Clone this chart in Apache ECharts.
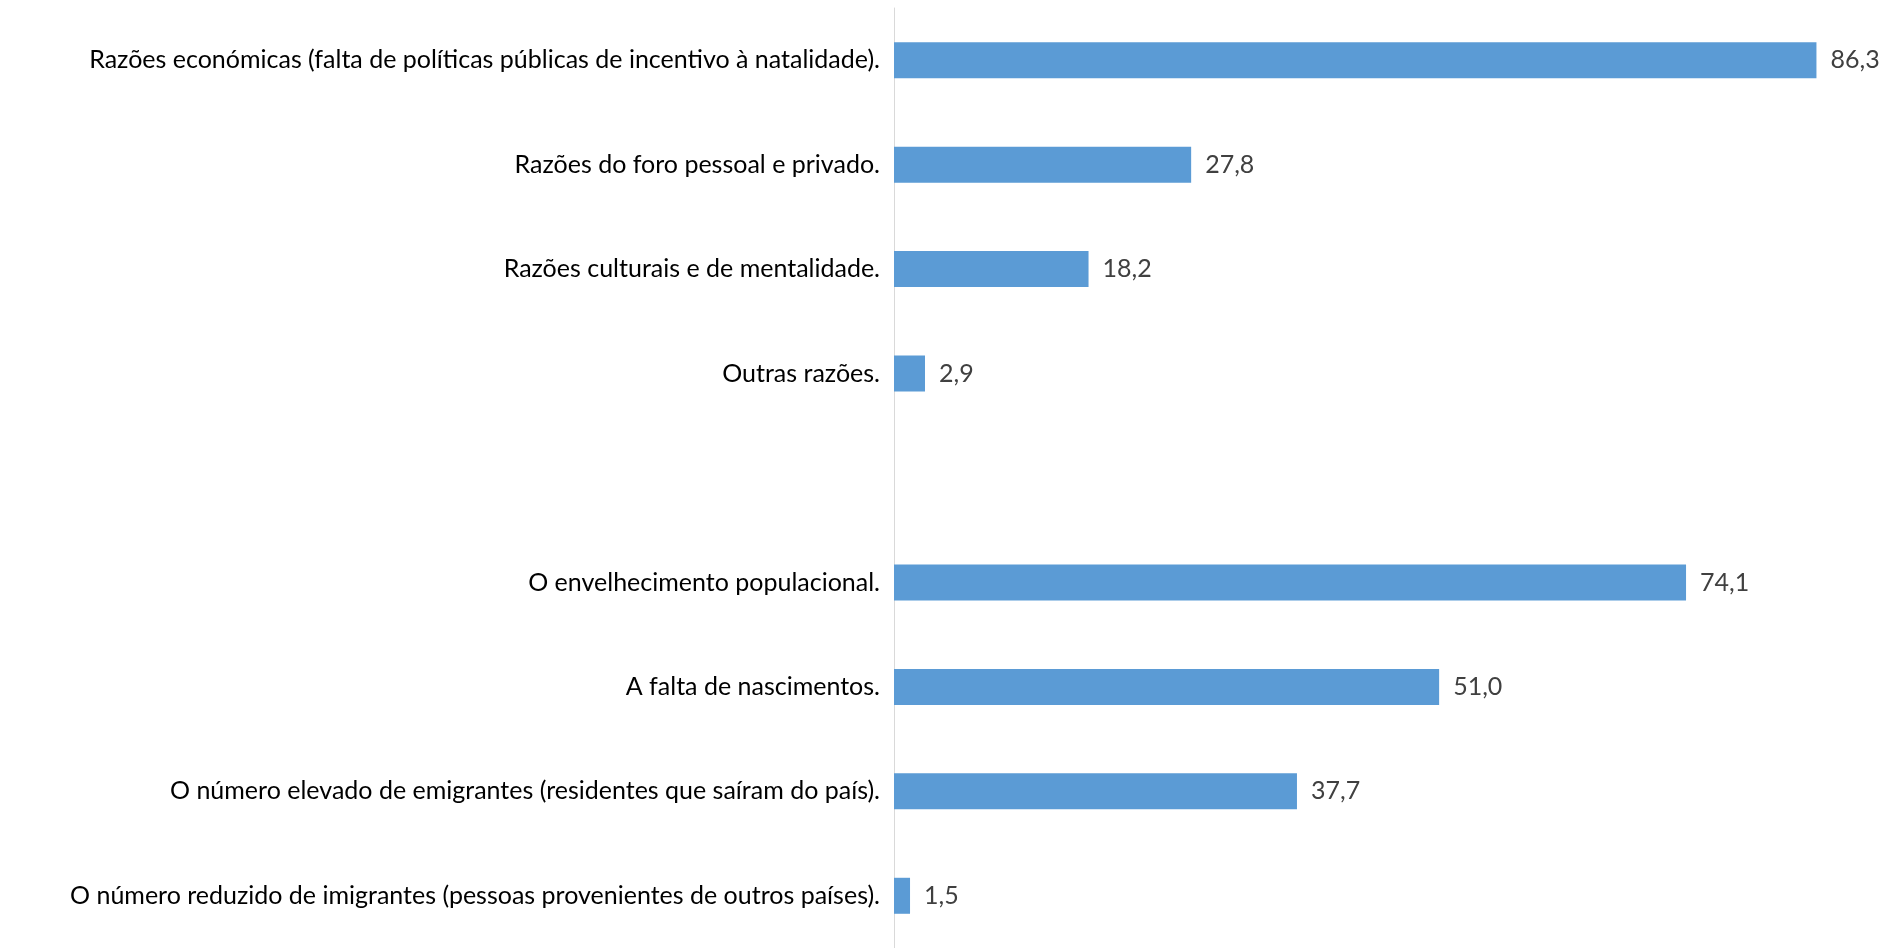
<!DOCTYPE html>
<html>
<head>
<meta charset="utf-8">
<script src="https://cdn.jsdelivr.net/npm/echarts@6/dist/echarts.min.js"></script>
<style>
  html, body { margin: 0; padding: 0; background: #fff; }
  #chart { width: 1899px; height: 948px; }
</style>
</head>
<body>
<div id="chart"></div>
<script>
// categories from top to bottom; the empty one is the gap between the two groups
var categories = [
  "Razões económicas (falta de políticas públicas de incentivo à natalidade).",
  "Razões do foro pessoal e privado.",
  "Razões culturais e de mentalidade.",
  "Outras razões.",
  "",
  "O envelhecimento populacional.",
  "A falta de nascimentos.",
  "O número elevado de emigrantes (residentes que saíram do país).",
  "O número reduzido de imigrantes (pessoas provenientes de outros países)."
];
var values = [86.3, 27.8, 18.2, 2.9, null, 74.1, 51.0, 37.7, 1.5];

var chart = echarts.init(document.getElementById("chart"));

var option = {
  animation: false,
  grid: {
    left: 894,
    right: 43,
    top: 8,
    height: 943
  },
  xAxis: {
    type: "value",
    min: 0,
    max: 90,
    show: false
  },
  yAxis: {
    type: "category",
    inverse: true,
    data: categories,
    axisLine: { show: true, lineStyle: { color: "#d9d9d9", width: 1 } },
    axisTick: { show: false },
    axisLabel: {
      color: "#000000",
      fontFamily: "Lato",
      fontSize: 25,
      margin: 14
    }
  },
  series: [
    {
      type: "bar",
      data: values,
      barWidth: 36,
      itemStyle: { color: "#5b9bd5" },
      label: {
        show: true,
        position: "right",
        distance: 14,
        color: "#404040",
        fontFamily: "Lato",
        fontSize: 25,
        formatter: function (p) {
          return p.value == null ? "" : p.value.toFixed(1).replace(".", ",");
        }
      }
    }
  ]
};

chart.setOption(option);
</script>
</body>
</html>
